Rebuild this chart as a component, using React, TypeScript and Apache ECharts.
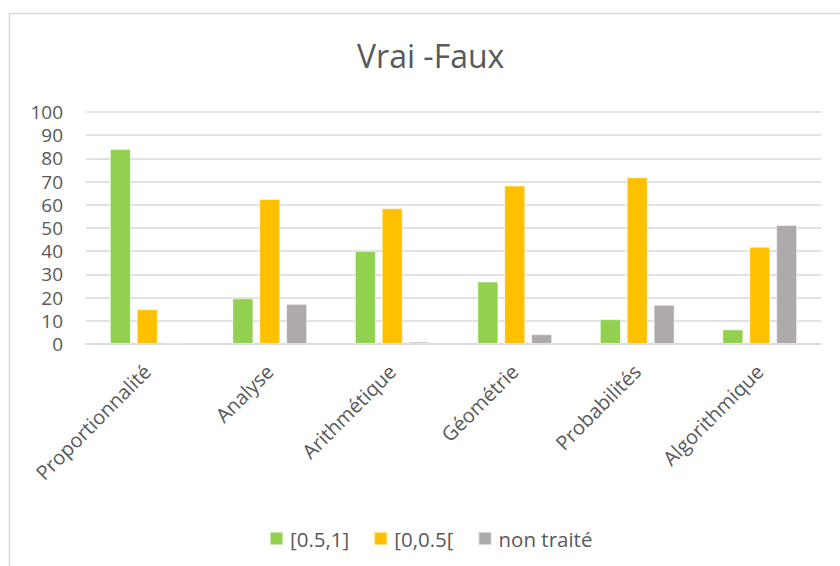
import React, { useEffect, useRef } from "react";
import * as echarts from "echarts";

const categories = ["Proportionnalité", "Analyse", "Arithmétique", "Géométrie", "Probabilités", "Algorithmique"];
const seriesNames = ["[0.5,1]", "[0,0.5[", "non traité"];
const green = [84, 19.7, 40.1, 26.9, 10.7, 6.3];
const yellow = [15, 62.5, 58.5, 68.3, 71.9, 41.9];
const gray = [0.7, 17.3, 1.0, 4.2, 16.9, 51.3];
const colors = ["#92D050", "#FFC000", "#AEAAAA"];
const FONT = "Open Sans";
const TEXT = "#595959";

export default function App() {
  const ref = useRef<HTMLDivElement>(null);
  useEffect(() => {
    const chart = echarts.init(ref.current!, null, { renderer: "svg" });
    const data = [green, yellow, gray];
    chart.setOption({
      animation: false,
      backgroundColor: "#ffffff",
      title: {
        text: "Vrai -Faux",
        left: 352,
        top: 34,
        textStyle: { fontFamily: FONT, fontSize: 32, fontWeight: "normal", color: TEXT },
      },
      graphic: [
        {
          type: "rect",
          shape: { x: 9.5, y: 13.5, width: 900, height: 600 },
          style: { fill: "none", stroke: "#D9D9D9", lineWidth: 1.5 },
          silent: true,
        },
      ],
      legend: {
        data: seriesNames,
        left: 264,
        top: 523,
        itemWidth: 13,
        itemHeight: 13,
        itemGap: 24,
        icon: "rect",
        textStyle: { fontFamily: FONT, fontSize: 20.5, color: TEXT, padding: [0, 0, 0, 2] },
      },
      grid: { left: 86, right: 19, top: 112, bottom: 222, containLabel: false },
      xAxis: {
        type: "category",
        data: categories,
        axisLine: { lineStyle: { color: "#D9D9D9", width: 1.5 } },
        axisTick: { show: false },
        axisLabel: { rotate: 45, fontFamily: FONT, fontSize: 20, color: TEXT, margin: 24, interval: 0 },
      },
      yAxis: {
        type: "value",
        min: 0,
        max: 100,
        interval: 10,
        axisLine: { show: false },
        axisTick: { show: false },
        splitLine: { lineStyle: { color: "#D9D9D9", width: 1.5 } },
        axisLabel: { fontFamily: FONT, fontSize: 19, lineHeight: 19, color: TEXT, margin: 23 },
      },
      series: seriesNames.map((name, i) => ({
        name,
        type: "bar",
        data: data[i],
        barWidth: 21,
        barGap: "28%",
        itemStyle: { color: colors[i], borderColor: "rgba(255,255,255,0.5)", borderWidth: 1 },
      })),
    });
    return () => chart.dispose();
  }, []);
  return <div ref={ref} style={{ position: "fixed", left: 0, top: 0, width: 840, height: 566 }} />;
}
